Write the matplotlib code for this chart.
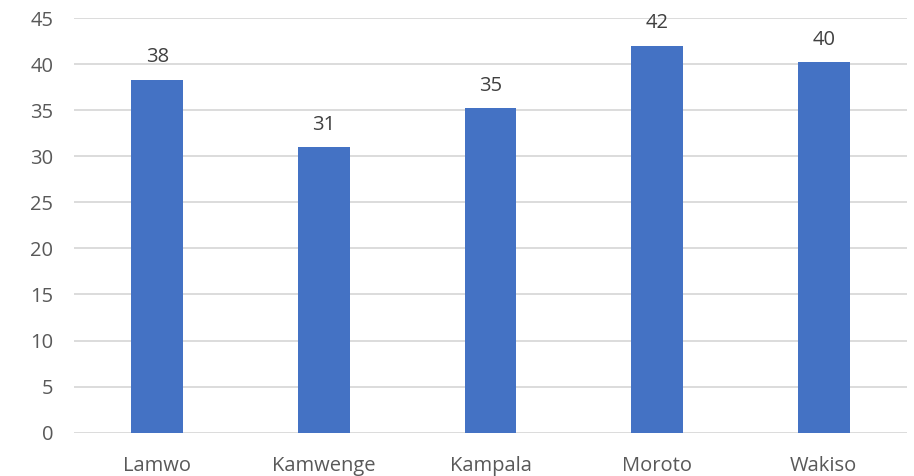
import matplotlib.pyplot as plt
import numpy as np

# District values
districts = ["Lamwo", "Kamwenge", "Kampala", "Moroto", "Wakiso"]
values = [38.3, 31.0, 35.2, 42.0, 40.2]

plt.rcParams['font.family'] = ['Open Sans', 'DejaVu Sans']

fig = plt.figure(figsize=(9.14, 4.76), dpi=100)
ax = fig.add_axes([74 / 914, (476 - 432.7) / 476, 833 / 914, 414.7 / 476])

x = np.arange(len(districts))
bars = ax.bar(x, values, width=0.31, color='#4472c4', zorder=3)

# Value labels above bars
for xi, v in zip(x, values):
    ax.annotate(f'{v:.0f}', (xi, v), xytext=(0, 9), textcoords='offset points',
                ha='center', va='bottom', fontsize=14.5, color='#404040')

ax.set_xlim(-0.5, len(districts) - 0.5)
ax.set_ylim(0, 45)
ax.set_yticks(range(0, 46, 5))
ax.set_xticks(x)
ax.set_xticklabels(districts)

ax.grid(axis='y', color='#d9d9d9', linewidth=1.3, zorder=0)
for s in ax.spines.values():
    s.set_visible(False)
ax.tick_params(axis='both', length=0, labelsize=14.5, colors='#595959')
ax.tick_params(axis='y', pad=15)
ax.tick_params(axis='x', pad=17)

plt.savefig("out.png", dpi=100)
